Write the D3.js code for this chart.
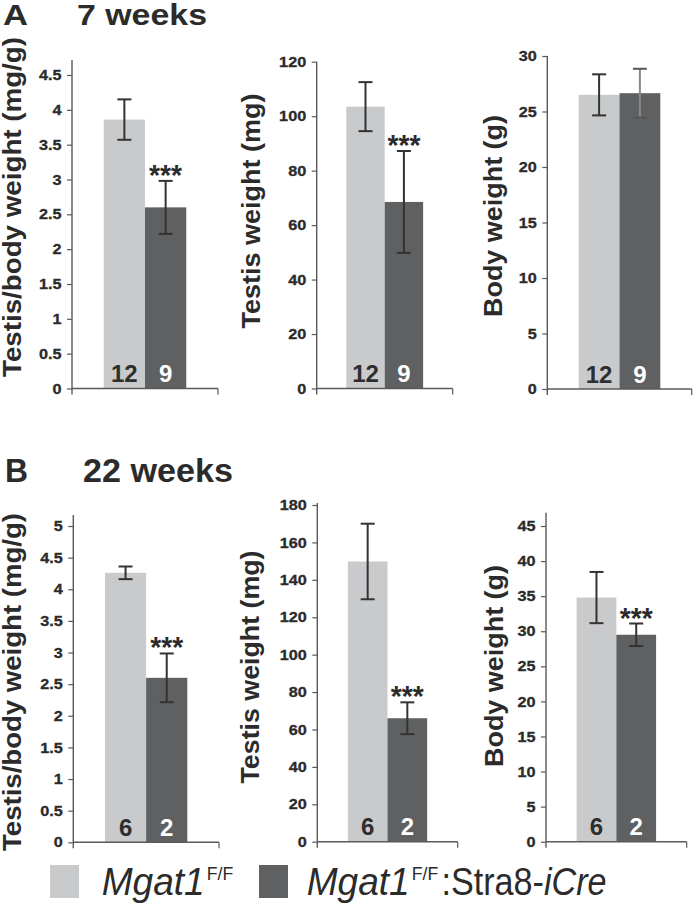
<!DOCTYPE html>
<html><head><meta charset="utf-8">
<script src="https://cdn.jsdelivr.net/npm/d3@7"></script>
<style>
body{margin:0;background:#fff}
svg{display:block}
text{font-family:"Liberation Sans",Arial,Helvetica,sans-serif}
</style>
</head><body>
<svg id="chart" width="697" height="904"></svg>
<script>
// ---------- data ----------
const groups = ["Mgat1F/F", "Mgat1F/F:Stra8-iCre"];
const titles = ["7 weeks", "22 weeks"];
const panelLetters = ["A", "B"];
const yLabels = ["Testis/body weight (mg/g)", "Testis weight (mg)", "Body weight (g)"];

const n7 = [12, 9];
const n22 = [6, 2];

const ratio7Mean = [3.86, 2.60];
const ratio7Err = [0.29, 0.38];
const testis7Mean = [103.5, 68.5];
const testis7Err = [9.0, 18.7];
const body7Mean = [26.5, 26.65];
const body7Err = [1.85, 2.2];

const ratio22Mean = [4.26, 2.60];
const ratio22Err = [0.10, 0.385];
const testis22Mean = [149.8, 66.0];
const testis22Err = [20.2, 8.5];
const body22Mean = [34.8, 29.5];
const body22Err = [3.65, 1.6];

const sig7 = ["***", "***", ""];
const sig22 = ["***", "***", "***"];

const ratio7Ticks = [0, 0.5, 1, 1.5, 2, 2.5, 3, 3.5, 4, 4.5];
const testis7Ticks = [0, 20, 40, 60, 80, 100, 120];
const body7Ticks = [0, 5, 10, 15, 20, 25, 30];
const ratio22Ticks = [0, 0.5, 1, 1.5, 2, 2.5, 3, 3.5, 4, 4.5, 5];
const testis22Ticks = [0, 20, 40, 60, 80, 100, 120, 140, 160, 180];
const body22Ticks = [0, 5, 10, 15, 20, 25, 30, 35, 40, 45];

// ---------- styles / layout ----------
const barColors = ["#c9cacc", "#5f6062"];
const nColors = ["#2e2e2e", "#ffffff"];
const textColor = "#2b2b2b";
const axisColor = "#5a5a5a";

const panels = [
  {mean: ratio7Mean, err: ratio7Err, n: n7, sig: sig7[0], ticks: ratio7Ticks, label: yLabels[0],
   axisX: 72, xEnd: 218, y0: 388.5, yTop: 75, axisTop: 60, lx: 21, ly: 207, lLen: 340, lFs: 26},
  {mean: testis7Mean, err: testis7Err, n: n7, sig: sig7[1], ticks: testis7Ticks, label: yLabels[1],
   axisX: 316.7, xEnd: 452.7, y0: 388.5, yTop: 61.7, axisTop: 61.7, lx: 260, ly: 211, lLen: 235, lFs: 25},
  {mean: body7Mean, err: body7Err, n: n7, sig: sig7[2], ticks: body7Ticks, label: yLabels[2],
   axisX: 547.3, xEnd: 691.7, y0: 389, yTop: 56, axisTop: 56, lx: 501.5, ly: 216, lLen: 202, lFs: 26, darkErrColor: "#8a8a8a"},
  {mean: ratio22Mean, err: ratio22Err, n: n22, sig: sig22[0], ticks: ratio22Ticks, label: yLabels[0],
   axisX: 73.3, xEnd: 219, y0: 842.3, yTop: 526, axisTop: 515, lx: 21, ly: 682, lLen: 338, lFs: 26},
  {mean: testis22Mean, err: testis22Err, n: n22, sig: sig22[1], ticks: testis22Ticks, label: yLabels[1],
   axisX: 317.3, xEnd: 457.7, y0: 841.7, yTop: 505, axisTop: 503, lx: 258.5, ly: 667, lLen: 233, lFs: 25},
  {mean: body22Mean, err: body22Err, n: n22, sig: sig22[2], ticks: body22Ticks, label: yLabels[2],
   axisX: 546, xEnd: 686.7, y0: 841.7, yTop: 526, axisTop: 512.7, lx: 502.5, ly: 666, lLen: 202, lFs: 26}
];

const svg = d3.select("#chart");
const fmt = d3.format("~g");

panels.forEach(p => {
  const g = svg.append("g");
  const yMax = p.ticks[p.ticks.length - 1];
  const y = d3.scaleLinear().domain([0, yMax]).range([p.y0, p.yTop]);
  const x = d3.scaleBand().domain(groups).range([p.axisX, p.xEnd]).paddingInner(0).paddingOuter(0.77);

  // bars
  g.selectAll("rect.bar").data(groups).join("rect")
    .attr("x", d => x(d)).attr("width", x.bandwidth())
    .attr("y", (d, i) => y(p.mean[i]))
    .attr("height", (d, i) => y(0) - y(p.mean[i]))
    .attr("fill", (d, i) => barColors[i]);

  // axes lines
  g.append("line").attr("x1", p.axisX).attr("x2", p.axisX)
    .attr("y1", p.axisTop).attr("y2", p.y0 + 6)
    .attr("stroke", axisColor).attr("stroke-width", 1.4);
  g.append("line").attr("x1", p.axisX).attr("x2", p.xEnd)
    .attr("y1", p.y0).attr("y2", p.y0)
    .attr("stroke", axisColor).attr("stroke-width", 1.4);
  g.append("line").attr("x1", p.xEnd).attr("x2", p.xEnd)
    .attr("y1", p.y0).attr("y2", p.y0 + 6)
    .attr("stroke", axisColor).attr("stroke-width", 1.2);

  // y axis ticks via d3.axisLeft
  const ax = g.append("g").attr("transform", `translate(${p.axisX},0)`)
    .call(d3.axisLeft(y).tickValues(p.ticks).tickFormat(fmt).tickSize(5).tickSizeOuter(0).tickPadding(4.4));
  ax.select(".domain").remove();
  ax.selectAll(".tick line").attr("stroke", axisColor).attr("stroke-width", 1.2);
  ax.selectAll(".tick text")
    .attr("fill", textColor).attr("font-size", 14.5).attr("font-weight", "bold")
    .attr("font-family", '"Liberation Sans",Arial,sans-serif')
    .attr("stroke", textColor).attr("stroke-width", 0.3)
    .attr("transform", "scale(1.12,1)");

  // error bars
  const cap = 7;
  groups.forEach((grp, i) => {
    const cx = x(grp) + x.bandwidth() / 2;
    const hi = y(p.mean[i] + p.err[i]);
    const lo = y(p.mean[i] - p.err[i]);
    const col = (i === 1 && p.darkErrColor) ? p.darkErrColor : "#333";
    g.append("line").attr("x1", cx).attr("x2", cx).attr("y1", hi).attr("y2", lo)
      .attr("stroke", col).attr("stroke-width", 2);
    [hi, lo].forEach(yy => g.append("line").attr("x1", cx - cap).attr("x2", cx + cap)
      .attr("y1", yy).attr("y2", yy).attr("stroke", i === 1 && p.darkErrColor ? "#555" : "#333").attr("stroke-width", 2));
    // n label
    g.append("text").attr("x", cx).attr("y", p.y0 - 6.5)
      .attr("text-anchor", "middle").attr("font-size", 24).attr("font-weight", "bold")
      .attr("fill", nColors[i]).text(p.n[i]);
    if (i === 1 && p.sig) {
      g.append("text").attr("x", cx).attr("y", hi + 4)
        .attr("text-anchor", "middle").attr("font-size", 30).attr("font-weight", "bold")
        .attr("fill", textColor).attr("textLength", 33).attr("lengthAdjust", "spacingAndGlyphs")
        .text(p.sig);
    }
  });

  // y label
  g.append("text")
    .attr("transform", `translate(${p.lx},${p.ly}) rotate(-90)`)
    .attr("text-anchor", "middle").attr("font-size", p.lFs).attr("font-weight", "bold")
    .attr("fill", textColor).attr("textLength", p.lLen).attr("lengthAdjust", "spacingAndGlyphs")
    .text(p.label);
});

// titles
const titleSpecs = [
  {letter: panelLetters[0], lx: 3, lw: 25, title: titles[0], tx: 77, tw: 130, y: 25, fs: 30},
  {letter: panelLetters[1], lx: 5, lw: 23, title: titles[1], tx: 83, tw: 150, y: 482, fs: 34}
];
titleSpecs.forEach(t => {
  svg.append("text").attr("x", t.lx).attr("y", t.y).attr("font-size", t.fs).attr("font-weight", "bold")
    .attr("fill", textColor).attr("textLength", t.lw).attr("lengthAdjust", "spacingAndGlyphs").text(t.letter);
  svg.append("text").attr("x", t.tx).attr("y", t.y).attr("font-size", t.fs).attr("font-weight", "bold")
    .attr("fill", textColor).attr("textLength", t.tw).attr("lengthAdjust", "spacingAndGlyphs").text(t.title);
});

// legend
const leg = svg.append("g");
const legSquares = [{x: 50}, {x: 259}];
legSquares.forEach((s, i) => leg.append("rect").attr("x", s.x).attr("y", 865).attr("width", 29).attr("height", 33).attr("fill", barColors[i]));
const legParts = [
  {t: "Mgat1", x: 101.7, w: 103, it: true, sup: false},
  {t: "F/F", x: 206.7, w: 26.6, it: false, sup: true},
  {t: "Mgat1", x: 306.7, w: 103, it: true, sup: false},
  {t: "F/F", x: 411.7, w: 26.6, it: false, sup: true}
];
legParts.forEach(p => {
  leg.append("text").attr("x", p.x).attr("y", p.sup ? 880 : 895)
    .attr("font-size", p.sup ? 19 : 38).attr("font-style", p.it ? "italic" : "normal")
    .attr("fill", textColor).attr("textLength", p.w).attr("lengthAdjust", "spacingAndGlyphs")
    .text(p.t);
});
const tail = leg.append("text").attr("x", 441.5).attr("y", 895).attr("font-size", 38)
  .attr("fill", textColor).attr("textLength", 165).attr("lengthAdjust", "spacingAndGlyphs");
tail.append("tspan").text(":Stra8-");
tail.append("tspan").attr("font-style", "italic").text("iCre");
</script>
</body></html>
